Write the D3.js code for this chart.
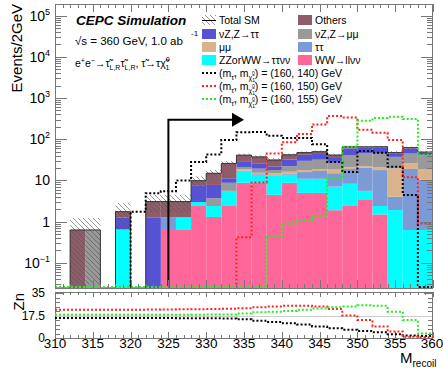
<!DOCTYPE html>
<html>
<head>
<meta charset="utf-8">
<script src="https://cdn.jsdelivr.net/npm/d3@7"></script>
<style>
  body { margin: 0; background: #fff; }
  svg { display: block; font-family: "Liberation Sans", Arial, sans-serif; }
</style>
</head>
<body>
<div id="chart"></div>
<script>
// bin low edges (2 GeV bins)
var edges = [310,312,314,316,318,320,322,324,326,328,330,332,334,336,338,340,342,344,346,348,350,352,354,356,358];

// SM backgrounds, events per bin
var ww        = [0,0,0,0,0,0,0,0.63,0.63,2.5,1.3,2.5,8.8,8.8,4.5,8.8,5,5,1.9,2.5,3.5,1.5,0,0,0];
var zzww      = [0,0,0,0,0.65,0,0,0,0.65,0.5,1.1,3.1,8.5,4.8,9,5,6,6,5.2,5.8,2.1,0.9,1.92,0.63,0.63];
var tautau    = [0,0,0,0,0,0,0,0.65,0,0,0,0,0,0.6,0,1,5,6,7.9,10.7,14.7,15.5,2.1,18.4,9.7];
var mumu      = [0,0,0,0,0,0,0,0,0,0,0,0,1.5,1.2,1.5,1.5,2,2,4,2,2,3,15.5,7,8.7];
var nuZmumu   = [0,0,0.63,0,0,0,0,0,0,0,1.3,3.2,2.5,4,3,6,12,13,8,20.5,23.3,24,18,19,22];
var nuZtautau = [0,0,0,0,0.6,0,1.28,0,0,4.4,4.1,2.5,7,6,4,10,12,12,10,18.5,17,19,7,15,7.5];
var others    = [0,0.63,0,0,0.5,0,1.8,1.8,1.8,2.5,7.2,14.7,13,12,9.5,9.7,5.5,6,4.5,6,3,2,3,2.7,0.5];
// total SM uncertainty (absolute)
var smErr     = [0,0.6,0.6,0,1.1,0,1.4,1.4,1.4,2.6,3,3.5,3.5,3.5,3.2,3.2,3.3,3.5,3,4,4,4,3.8,4,3.8];

// signals
var sig140 = [0,0,0,0,0,1.75,4.9,5.5,10,28,43,96,148,150,122,108,108,76,28,16,52,47,21.6,4.45,0];
var sig150 = [0,0,0,0,0,0,0,0,0,0,0,0,0.42,9,45,85,135,230,366,340,170,145,96,12,0.9];
var sig155 = [0,0,0,0,0,0,0,0,0,0,0,0,0,0,0.43,0.9,1.1,1.4,11,66,280,330,350,310,41.5];

// significance Zn vs cut
var zn140 = [15.5,15.5,15.5,15.5,15.5,15.5,15.5,15.5,15.4,15.4,15.3,15.2,14.5,13.5,12.5,11.5,10.5,9,7.5,6.5,5.5,4.5,3,2,1.5];
var zn150 = [22,22,22,22,22,22,22.1,22.2,22.3,22.4,22.5,22.8,23.2,24,24.5,25,25,24.5,22.5,17.5,14,9,5,1,0.5];
var zn155 = [18,18,18,18,18,18,18,18,18,18.1,18.2,18.3,19,20,20.5,21,22,23,24,24.5,25.5,25,20.5,14,3.5];

var bkgKeys   = ["ww","zzww","tautau","mumu","nuZmumu","nuZtautau","others"];
var bkgColors = ["#ff6699","#00ffff","#7b9ad6","#d9b38c","#999999","#5552d4","#8e5d69"];

var W = 443, H = 368;
var mLeft = 55, mRight = 433, mTop = 4, mBottom = 288;
var rTop = 292, rBottom = 338;
var yMin = 0.0246, yMax = 192000;

var svg = d3.select("#chart").append("svg")
    .attr("width", W).attr("height", H);

var defs = svg.append("defs");
defs.append("clipPath").attr("id", "clipMain")
  .append("rect").attr("x", mLeft).attr("y", mTop).attr("width", mRight - mLeft).attr("height", mBottom - mTop);
var pat = defs.append("pattern").attr("id", "hatch")
    .attr("patternUnits", "userSpaceOnUse").attr("width", 5).attr("height", 5);
pat.append("path").attr("d", "M0,0L5,5M-1,4L1,6M4,-1L6,1")
    .attr("stroke", "#555").attr("stroke-opacity", 0.6).attr("stroke-width", 1);

var x = d3.scaleLinear().domain([310, 360]).range([mLeft, mRight]);
var y = d3.scaleLog().domain([yMin, yMax]).range([mBottom, mTop]);
var yr = d3.scaleLinear().domain([0, 35]).range([rBottom, rTop + 1]);

function yc(v) { return y(Math.max(v, yMin)); }

// table for the stack
var table = edges.map(function(e, i) {
  return {lo: e, ww: ww[i], zzww: zzww[i], tautau: tautau[i], mumu: mumu[i],
          nuZmumu: nuZmumu[i], nuZtautau: nuZtautau[i], others: others[i]};
});
var series = d3.stack().keys(bkgKeys)(table);

var gMain = svg.append("g").attr("clip-path", "url(#clipMain)");

series.forEach(function(s, k) {
  gMain.append("g").selectAll("rect")
    .data(s.filter(function(d) { return d[1] - d[0] > 0; }))
    .enter().append("rect")
      .attr("x", function(d) { return x(d.data.lo); })
      .attr("width", function(d) { return x(d.data.lo + 2) - x(d.data.lo); })
      .attr("y", function(d) { return yc(d[1]); })
      .attr("height", function(d) { return yc(d[0]) - yc(d[1]); })
      .attr("fill", bkgColors[k]);
});

var totals = table.map(function(d) {
  return bkgKeys.reduce(function(a, k) { return a + d[k]; }, 0);
});

// hatched uncertainty
gMain.append("g").selectAll("rect")
  .data(edges.filter(function(e, i) { return totals[i] > 0; }))
  .enter().append("rect")
    .attr("x", function(e) { return x(e); })
    .attr("width", function(e) { return x(e + 2) - x(e); })
    .attr("y", function(e) { var i = edges.indexOf(e); return yc(totals[i] + smErr[i]); })
    .attr("height", function(e) { var i = edges.indexOf(e); return yc(totals[i] - smErr[i]) - yc(totals[i] + smErr[i]); })
    .attr("fill", "url(#hatch)");

// step outline helper
function steps(vals, scale) {
  var pts = edges.map(function(e, i) { return [e, vals[i]]; });
  pts.push([360, vals[vals.length - 1]]);
  return d3.line()
    .x(function(d) { return x(d[0]); })
    .y(function(d) { return scale(d[1]); })
    .curve(d3.curveStepAfter)(pts);
}

// total SM outline
gMain.append("path").attr("d", steps(totals, yc))
  .attr("fill", "none").attr("stroke", "#333").attr("stroke-width", 1);

// cut arrow
var cutX = 325, cutX2 = 335, cutLevel = 300;
var ax = x(cutX), ay = y(cutLevel), tip = x(cutX2);
gMain.append("path")
  .attr("d", "M" + ax + "," + mBottom + "V" + ay + "H" + (tip - 12))
  .attr("fill", "none").attr("stroke", "#000").attr("stroke-width", 2);
gMain.append("path")
  .attr("d", "M" + (tip - 12) + "," + (ay - 7) + "L" + tip + "," + ay + "L" + (tip - 12) + "," + (ay + 7) + "Z")
  .attr("fill", "#000");

// signal lines
var sigs = [[sig140, "#000"], [sig150, "#ff2020"], [sig155, "#22ee22"]];
sigs.forEach(function(s) {
  gMain.append("path").attr("d", steps(s[0], function(v) { return Math.min(yc(v), mBottom - 1); }))
    .attr("fill", "none").attr("stroke", s[1]).attr("stroke-width", 2)
    .attr("stroke-dasharray", "2,2");
});

// frames
var frameCol = "#777";
svg.append("rect").attr("x", mLeft + 0.5).attr("y", mTop + 0.5)
  .attr("width", mRight - mLeft - 1).attr("height", mBottom - mTop)
  .attr("fill", "none").attr("stroke", frameCol);
svg.append("rect").attr("x", mLeft + 0.5).attr("y", rTop + 0.5)
  .attr("width", mRight - mLeft - 1).attr("height", rBottom - rTop)
  .attr("fill", "none").attr("stroke", frameCol);

// ticks
var tk = svg.append("g").attr("stroke", frameCol).attr("stroke-width", 1);
function hTick(yy, len) {
  tk.append("line").attr("x1", mLeft).attr("x2", mLeft + len).attr("y1", yy).attr("y2", yy);
  tk.append("line").attr("x1", mRight).attr("x2", mRight - len).attr("y1", yy).attr("y2", yy);
}
function vTick(xx, y0, len) {
  tk.append("line").attr("x1", xx).attr("x2", xx).attr("y1", y0).attr("y2", y0 + len);
}
for (var p = -2; p <= 5; p++) {
  for (var m = 1; m <= 9; m++) {
    var v = m * Math.pow(10, p);
    if (v < yMin || v > yMax) continue;
    hTick(Math.round(y(v)) + 0.5, m === 1 ? 12 : 6);
  }
}
for (var g = 310; g <= 360; g++) {
  var xx = Math.round(x(g)) + 0.5;
  var major = g % 5 === 0;
  vTick(xx, mTop, major ? 8 : 4);
  vTick(xx, mBottom, major ? -8 : -4);
  vTick(xx, rTop, major ? 5 : 3);
  vTick(xx, rBottom, major ? -6 : -3);
}
for (var z = 0; z <= 35; z += 3.5) {
  hTick(Math.round(yr(z)) + 0.5, z % 17.5 === 0 ? 9 : 5);
}

// y labels main
var ylab = svg.append("g").attr("font-size", 14).attr("text-anchor", "end");
[-1, 0, 1, 2, 3, 4, 5].forEach(function(p) {
  var t = ylab.append("text").attr("x", 50).attr("y", y(Math.pow(10, p)) + 5);
  if (p === 0) t.text("1");
  else if (p === 1) t.text("10");
  else {
    t.append("tspan").text("10");
    t.append("tspan").attr("font-size", 9).attr("dy", -6).text(p === -1 ? "\u22121" : p);
  }
});

svg.append("text").attr("transform", "translate(22,4) rotate(-90)")
  .attr("text-anchor", "end").attr("font-size", 15).text("Events/2GeV");

// ratio panel
svg.append("line").attr("x1", mLeft + 1).attr("x2", mRight - 1)
  .attr("y1", Math.round(yr(17.5)) + 0.5).attr("y2", Math.round(yr(17.5)) + 0.5)
  .attr("stroke", "#ccc");
[[zn140, "#000"], [zn150, "#ff2020"], [zn155, "#22ee22"]].forEach(function(s) {
  svg.append("path").attr("d", steps(s[0], yr))
    .attr("fill", "none").attr("stroke", s[1]).attr("stroke-width", 2)
    .attr("stroke-dasharray", "2,2");
});
var rlab = svg.append("g").attr("font-size", 12).attr("text-anchor", "end");
[[35, "35"], [17.5, "17.5"], [0, "0"]].forEach(function(d) {
  rlab.append("text").attr("x", 45).attr("y", yr(d[0]) + 4).text(d[1]);
});
svg.append("text").attr("transform", "translate(24,293) rotate(-90)")
  .attr("text-anchor", "end").attr("font-size", 15).text("Zn");

var xlab = svg.append("g").attr("font-size", 13.5).attr("text-anchor", "middle");
[310, 315, 320, 325, 330, 335, 340, 345, 350, 355, 360].forEach(function(g) {
  xlab.append("text").attr("x", g === 360 ? x(g) - 1 : x(g)).attr("y", 348).text(g);
});
var mr = svg.append("text").attr("x", 400).attr("y", 363).attr("font-size", 15);
mr.append("tspan").text("M");
mr.append("tspan").attr("font-size", 10).attr("dy", 4).text("recoil");

// labels top left
svg.append("text").attr("x", 76).attr("y", 25).attr("font-size", 13.5)
  .attr("font-weight", "bold").attr("font-style", "italic").text("CEPC Simulation");
svg.append("text").attr("x", 75).attr("y", 45).attr("font-size", 11.5)
  .text("\u221As = 360 GeV, 1.0 ab");
svg.append("text").attr("x", 191).attr("y", 36).attr("font-size", 8).text("-1");
var proc = svg.append("text").attr("x", 75).attr("y", 67).attr("font-size", 10.5);
proc.append("tspan").text("e");
proc.append("tspan").attr("font-size", 7).attr("dy", -4).text("+");
proc.append("tspan").attr("dy", 4).text("e");
proc.append("tspan").attr("font-size", 7).attr("dy", -4).text("\u2212");
proc.append("tspan").attr("dy", 4).text("\u2192\u03C4\u0303");
proc.append("tspan").attr("font-size", 7).attr("dy", 3).text("L,R");
proc.append("tspan").attr("dy", -3).text("\u03C4\u0303");
proc.append("tspan").attr("font-size", 7).attr("dy", 3).text("L,R");
proc.append("tspan").attr("dy", -3).text(", \u03C4\u0303\u2192\u03C4\u03C7\u0303");
proc.append("tspan").attr("font-size", 7).attr("dy", -5).text("0");
proc.append("tspan").attr("font-size", 7).attr("dx", -4).attr("dy", 8).text("1");

// legend
var leg = svg.append("g").attr("font-size", 10.5);
var legRows = [
  [202, 20, null, "Total SM"], [298, 20, 6, "Others"],
  [202, 34, 5, "\u03BDZ,Z\u2192\u03C4\u03C4"], [298, 34, 4, "\u03BDZ,Z\u2192\u03BC\u03BC"],
  [202, 47, 3, "\u03BC\u03BC"], [298, 47, 2, "\u03C4\u03C4"],
  [202, 60, 1, "ZZorWW\u2192\u03C4\u03C4\u03BD\u03BD"], [298, 60, 0, "WW\u2192ll\u03BD\u03BD"]
];
legRows.forEach(function(r) {
  if (r[2] === null) {
    leg.append("rect").attr("x", r[0]).attr("y", r[1] - 5).attr("width", 14).attr("height", 10)
      .attr("fill", "url(#hatch)");
    leg.append("line").attr("x1", r[0]).attr("x2", r[0] + 14).attr("y1", r[1] + 0.5).attr("y2", r[1] + 0.5)
      .attr("stroke", "#000");
  } else {
    leg.append("rect").attr("x", r[0]).attr("y", r[1] - 5).attr("width", 14).attr("height", 10)
      .attr("fill", bkgColors[r[2]]);
  }
  leg.append("text").attr("x", r[0] + 17).attr("y", r[1] + 4).text(r[3]);
});
var sigLeg = [[73, "#000", "140"], [86, "#ff2020", "150"], [99, "#22ee22", "155"]];
sigLeg.forEach(function(r) {
  leg.append("line").attr("x1", 202).attr("x2", 217).attr("y1", r[0]).attr("y2", r[0])
    .attr("stroke", r[1]).attr("stroke-width", 2).attr("stroke-dasharray", "2,2");
  var t = leg.append("text").attr("x", 219).attr("y", r[0] + 4);
  t.append("tspan").text("(m");
  t.append("tspan").attr("font-size", 7).attr("dy", 3).text("\u03C4\u0303");
  t.append("tspan").attr("dy", -3).text(", m");
  t.append("tspan").attr("font-size", 7).attr("dy", 3).text("\u03C7\u0303");
  t.append("tspan").attr("font-size", 5).attr("dy", 2).text("1");
  t.append("tspan").attr("font-size", 5).attr("dx", -3).attr("dy", -7).text("0");
  t.append("tspan").attr("dy", 2).text(") = (160, " + r[2] + ") GeV");
});
</script>
</body>
</html>
